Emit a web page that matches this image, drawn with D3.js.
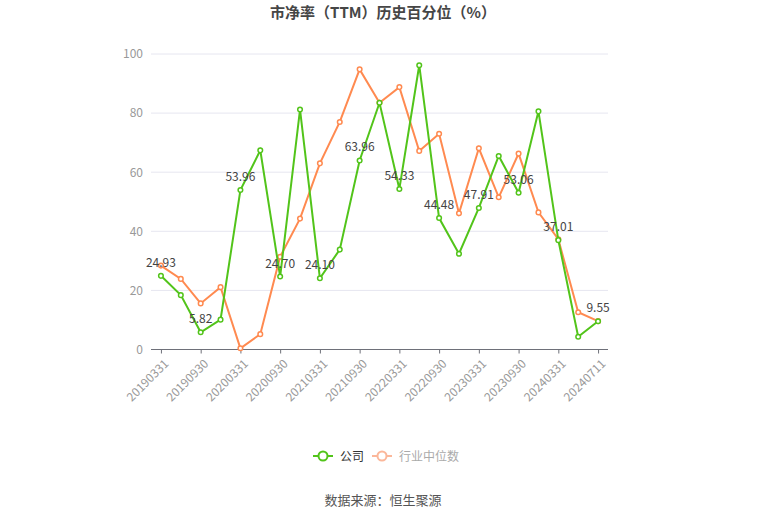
<!DOCTYPE html>
<html>
<head>
<meta charset="utf-8">
<script src="https://cdn.jsdelivr.net/npm/d3@7/dist/d3.min.js"></script>
<style>
body { margin: 0; background: #fff; }
svg { font-family: "Microsoft YaHei", "Noto Sans CJK SC", sans-serif; }
</style>
</head>
<body>
<svg width="765" height="517"></svg>
<script>
var dates = ['20190331','20190630','20190930','20191231','20200331','20200630','20200930','20201231',
  '20210331','20210630','20210930','20211231','20220331','20220630','20220930','20221231',
  '20230331','20230630','20230930','20231231','20240331','20240630','20240711'];
var company = [24.93, 18.4, 5.82, 10.1, 53.96, 67.4, 24.70, 81.2, 24.10, 33.8, 63.96, 83.5,
  54.33, 96.2, 44.48, 32.4, 47.91, 65.5, 53.06, 80.6, 37.01, 4.3, 9.55];
var industry = [28.4, 23.9, 15.6, 21.1, 0.4, 5.2, 31.4, 44.3, 63.0, 77.0, 94.8, 83.5,
  88.8, 67.2, 73.0, 46.1, 68.1, 51.5, 66.3, 46.4, 37.3, 12.6, 9.6];
var yTicks = [0, 20, 40, 60, 80, 100];
var seriesNames = ['公司', '行业中位数'];
var colors = ['#52c41a', '#ff8a50'];

var svg = d3.select('svg');
var x = d3.scalePoint().domain(dates).range([151, 608]).padding(0.5);
var y = d3.scaleLinear().domain([0, 100]).range([349.5, 54]);

svg.append('text')
  .attr('x', 383).attr('y', 18)
  .attr('text-anchor', 'middle')
  .attr('font-size', 15).attr('font-weight', 'bold')
  .attr('fill', '#464646')
  .text('市净率（TTM）历史百分位（%）');

// grid
svg.append('g').selectAll('line').data(yTicks.slice(1)).join('line')
  .attr('x1', 151).attr('x2', 608)
  .attr('y1', function(d) { return y(d); }).attr('y2', function(d) { return y(d); })
  .attr('stroke', '#e6e6f0').attr('stroke-width', 1);

var yAxis = svg.append('g').attr('transform', 'translate(151,0)')
  .call(d3.axisLeft(y).tickValues(yTicks).tickSize(0).tickPadding(8));
yAxis.select('.domain').remove();
yAxis.selectAll('text').attr('fill', '#999').attr('font-size', 12)
  .style('font-family', '"Microsoft YaHei", "Noto Sans CJK SC", sans-serif');

var xAxis = svg.append('g').attr('transform', 'translate(0,349.5)')
  .call(d3.axisBottom(x).tickValues(dates.filter(function(d, i) { return i % 2 === 0; })).tickSizeOuter(0).tickSize(4));
xAxis.select('.domain').attr('d', 'M151,0H608').attr('stroke', '#6e7079');
xAxis.selectAll('.tick line').attr('stroke', '#6e7079');
xAxis.selectAll('text')
  .attr('fill', '#999').attr('font-size', 12)
  .style('font-family', '"Microsoft YaHei", "Noto Sans CJK SC", sans-serif')
  .attr('text-anchor', 'end')
  .attr('dx', 0).attr('dy', 0)
  .attr('transform', 'translate(3,10) rotate(-45)');

var line = d3.line()
  .x(function(d, i) { return x(dates[i]); })
  .y(function(d) { return y(d); });

[industry, company].forEach(function(s, k) {
  var c = colors[1 - k];
  svg.append('path').datum(s)
    .attr('d', line).attr('fill', 'none')
    .attr('stroke', c).attr('stroke-width', 2);
  svg.append('g').selectAll('circle').data(s).join('circle')
    .attr('cx', function(d, i) { return x(dates[i]); })
    .attr('cy', function(d) { return y(d); })
    .attr('r', 2.3)
    .attr('fill', '#fff').attr('stroke', c).attr('stroke-width', 1.5);
});

svg.append('g').selectAll('text').data(company).join('text')
  .filter(function(d, i) { return i % 2 === 0; })
  .attr('x', function(d, i) { return x(dates[i * 2]); })
  .attr('y', function(d) { return y(d) - 9; })
  .attr('text-anchor', 'middle')
  .attr('font-size', 12).attr('fill', '#444')
  .text(function(d) { return d.toFixed(2); });

// legend
var leg = [{x: 313, c: colors[0], t: seriesNames[0], tc: '#333'},
           {x: 372, c: '#fbb79a', t: seriesNames[1], tc: '#aaa'}];
leg.forEach(function(l) {
  svg.append('line').attr('x1', l.x).attr('x2', l.x + 20).attr('y1', 456).attr('y2', 456)
    .attr('stroke', l.c).attr('stroke-width', 2);
  svg.append('circle').attr('cx', l.x + 10).attr('cy', 456).attr('r', 4.5)
    .attr('fill', '#fff').attr('stroke', l.c).attr('stroke-width', 2);
  svg.append('text').attr('x', l.x + 27).attr('y', 460.5)
    .attr('font-size', 12).attr('fill', l.tc).text(l.t);
});

svg.append('text')
  .attr('x', 383).attr('y', 505)
  .attr('text-anchor', 'middle')
  .attr('font-size', 13).attr('fill', '#555')
  .text('数据来源：恒生聚源');
</script>
</body>
</html>
